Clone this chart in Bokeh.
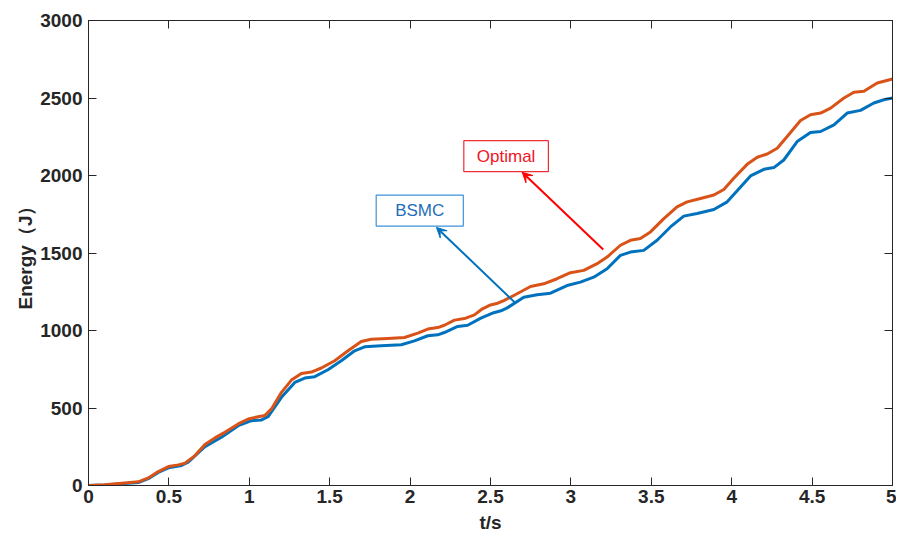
from bokeh.plotting import figure
from bokeh.models import (LinearAxis, FixedTicker, Range1d, Label, Arrow, VeeHead)
from bokeh.embed import file_html
from bokeh.resources import INLINE

# ---- data ----
t_opt = [0, 0.1, 0.207, 0.31, 0.372, 0.434, 0.497, 0.559, 0.60, 0.662, 0.724, 0.786,
         0.848, 0.931, 0.993, 1.055, 1.096, 1.138, 1.20, 1.262, 1.324, 1.386, 1.448,
         1.531, 1.614, 1.696, 1.758, 1.862, 1.965, 2.048, 2.11, 2.172, 2.213, 2.276,
         2.338, 2.40, 2.45, 2.50, 2.545, 2.583, 2.645, 2.749, 2.831, 2.914, 2.997,
         3.08, 3.163, 3.225, 3.308, 3.37, 3.432, 3.495, 3.578, 3.66, 3.723, 3.806,
         3.889, 3.951, 4.013, 4.096, 4.159, 4.221, 4.283, 4.345, 4.428, 4.49, 4.553,
         4.615, 4.698, 4.76, 4.822, 4.905, 5.0]
e_opt = [0, 5, 15, 24, 49, 90, 122, 133, 144, 193, 264, 307,
         343, 397, 429, 444, 451, 494, 601, 680, 723, 732, 758,
         805, 869, 929, 944, 949, 955, 983, 1009, 1019, 1034, 1067,
         1077, 1101, 1140, 1165, 1176, 1193, 1226, 1284, 1301, 1334, 1373,
         1388, 1431, 1474, 1550, 1582, 1593, 1636, 1722, 1798, 1830, 1852,
         1874, 1910, 1982, 2072, 2118, 2139, 2176, 2252, 2355, 2392, 2403,
         2435, 2500, 2537, 2543, 2597, 2623]

t_bsmc = [0, 0.1, 0.207, 0.31, 0.372, 0.434, 0.497, 0.579, 0.62, 0.724, 0.827, 0.931,
          1.014, 1.076, 1.117, 1.20, 1.283, 1.345, 1.407, 1.489, 1.572, 1.655, 1.717,
          1.82, 1.945, 2.027, 2.11, 2.172, 2.213, 2.296, 2.358, 2.44, 2.52, 2.565,
          2.604, 2.707, 2.79, 2.873, 2.976, 3.059, 3.142, 3.225, 3.308, 3.37, 3.453,
          3.536, 3.619, 3.702, 3.785, 3.889, 3.972, 4.034, 4.117, 4.2, 4.262, 4.324,
          4.407, 4.49, 4.553, 4.636, 4.718, 4.801, 4.884, 4.946, 5.0]
e_bsmc = [0, 4, 12, 19, 44, 84, 114, 129, 150, 251, 311, 386,
          418, 423, 444, 569, 665, 693, 702, 747, 805, 869, 895,
          901, 908, 933, 966, 972, 987, 1026, 1034, 1080, 1115, 1127,
          1146, 1215, 1230, 1241, 1290, 1312, 1344, 1398, 1485, 1506, 1517,
          1582, 1668, 1738, 1755, 1781, 1830, 1902, 1997, 2040, 2051, 2100,
          2219, 2278, 2284, 2327, 2403, 2420, 2468, 2489, 2500]

x_ticks = [0, 0.5, 1, 1.5, 2, 2.5, 3, 3.5, 4, 4.5, 5]
x_tick_labels = ["0", "0.5", "1", "1.5", "2", "2.5", "3", "3.5", "4", "4.5", "5"]
y_ticks = [0, 500, 1000, 1500, 2000, 2500, 3000]
y_tick_labels = ["0", "500", "1000", "1500", "2000", "2500", "3000"]

series_names = ["BSMC", "Optimal"]

# ---- styling ----
FONT = "Liberation Sans"
AX = "#262626"
C_OPT = "#D95319"
C_BSMC = "#0072BD"

p = figure(frame_width=804, frame_height=465,
           x_range=Range1d(0, 5), y_range=Range1d(0, 3000),
           output_backend="svg", toolbar_location=None,
           min_border_left=88, min_border_top=20, min_border_bottom=52,
           min_border_right=4)
p.background_fill_color = "white"
p.border_fill_color = "white"
p.outline_line_color = AX
p.outline_line_width = 1
p.grid.visible = False

p.line(t_bsmc, e_bsmc, line_color=C_BSMC, line_width=3, line_join="round")
p.line(t_opt, e_opt, line_color=C_OPT, line_width=3, line_join="round")


def style_axis(ax, ticks, labels, show_labels=True):
    ax.ticker = FixedTicker(ticks=ticks)
    ax.major_label_overrides = {k: v for k, v in zip(ticks, labels)}
    ax.minor_tick_line_color = None
    ax.major_tick_in = 8
    ax.major_tick_out = 0
    ax.major_tick_line_color = AX
    ax.axis_line_color = AX
    ax.major_label_text_font = FONT
    ax.major_label_text_font_style = "bold"
    if show_labels:
        ax.major_label_text_color = AX
        ax.major_label_text_font_size = "19px"
    else:
        ax.major_label_text_color = None
        ax.major_label_text_font_size = "1px"
        ax.major_label_standoff = 0


xa = p.xaxis[0]
ya = p.yaxis[0]
style_axis(xa, x_ticks, x_tick_labels)
style_axis(ya, y_ticks, y_tick_labels)
xa.major_label_standoff = 4
ya.major_label_standoff = 6
xa.axis_label = "t/s"
ya.axis_label = "Energy（J）"
for ax in (xa, ya):
    ax.axis_label_text_font = FONT
    ax.axis_label_text_font_style = "bold"
    ax.axis_label_text_font_size = "19px"
    ax.axis_label_text_color = AX
xa.axis_label_standoff = 6
ya.axis_label_standoff = 1

top = LinearAxis()
right = LinearAxis()
style_axis(top, x_ticks, x_tick_labels, show_labels=False)
style_axis(right, y_ticks, y_tick_labels, show_labels=False)
p.add_layout(top, "above")
p.add_layout(right, "right")

# ---- annotations ----
bsmc_label_pos = (2.06, 1774)
bsmc_arrow = (2.649, 1183, 2.164, 1665)
opt_label_pos = (2.597, 2125)
opt_arrow = (3.201, 1523, 2.697, 2021)

p.add_layout(Arrow(x_start=bsmc_arrow[0], y_start=bsmc_arrow[1],
                   x_end=bsmc_arrow[2], y_end=bsmc_arrow[3],
                   line_color=C_BSMC, line_width=2,
                   end=VeeHead(size=10, line_color=C_BSMC, fill_color=C_BSMC, line_width=1)))
p.add_layout(Arrow(x_start=opt_arrow[0], y_start=opt_arrow[1],
                   x_end=opt_arrow[2], y_end=opt_arrow[3],
                   line_color="#FF0000", line_width=2,
                   end=VeeHead(size=10, line_color="#FF0000", fill_color="#FF0000", line_width=1)))

p.add_layout(Label(x=bsmc_label_pos[0], y=bsmc_label_pos[1], text=series_names[0],
                   text_font=FONT, text_font_size="17px", text_color="#1F6EB8",
                   text_align="center", text_baseline="middle",
                   border_line_color="#3E92D8", border_line_width=1.2,
                   background_fill_color="white", padding=(19, 6)))
p.add_layout(Label(x=opt_label_pos[0], y=opt_label_pos[1], text=series_names[1],
                   text_font=FONT, text_font_size="17px", text_color="#F0141E",
                   text_align="center", text_baseline="middle",
                   border_line_color="#EE2E35", border_line_width=1.2,
                   background_fill_color="white", padding=(13, 6)))

open("out.html", "w").write(file_html(p, INLINE))
